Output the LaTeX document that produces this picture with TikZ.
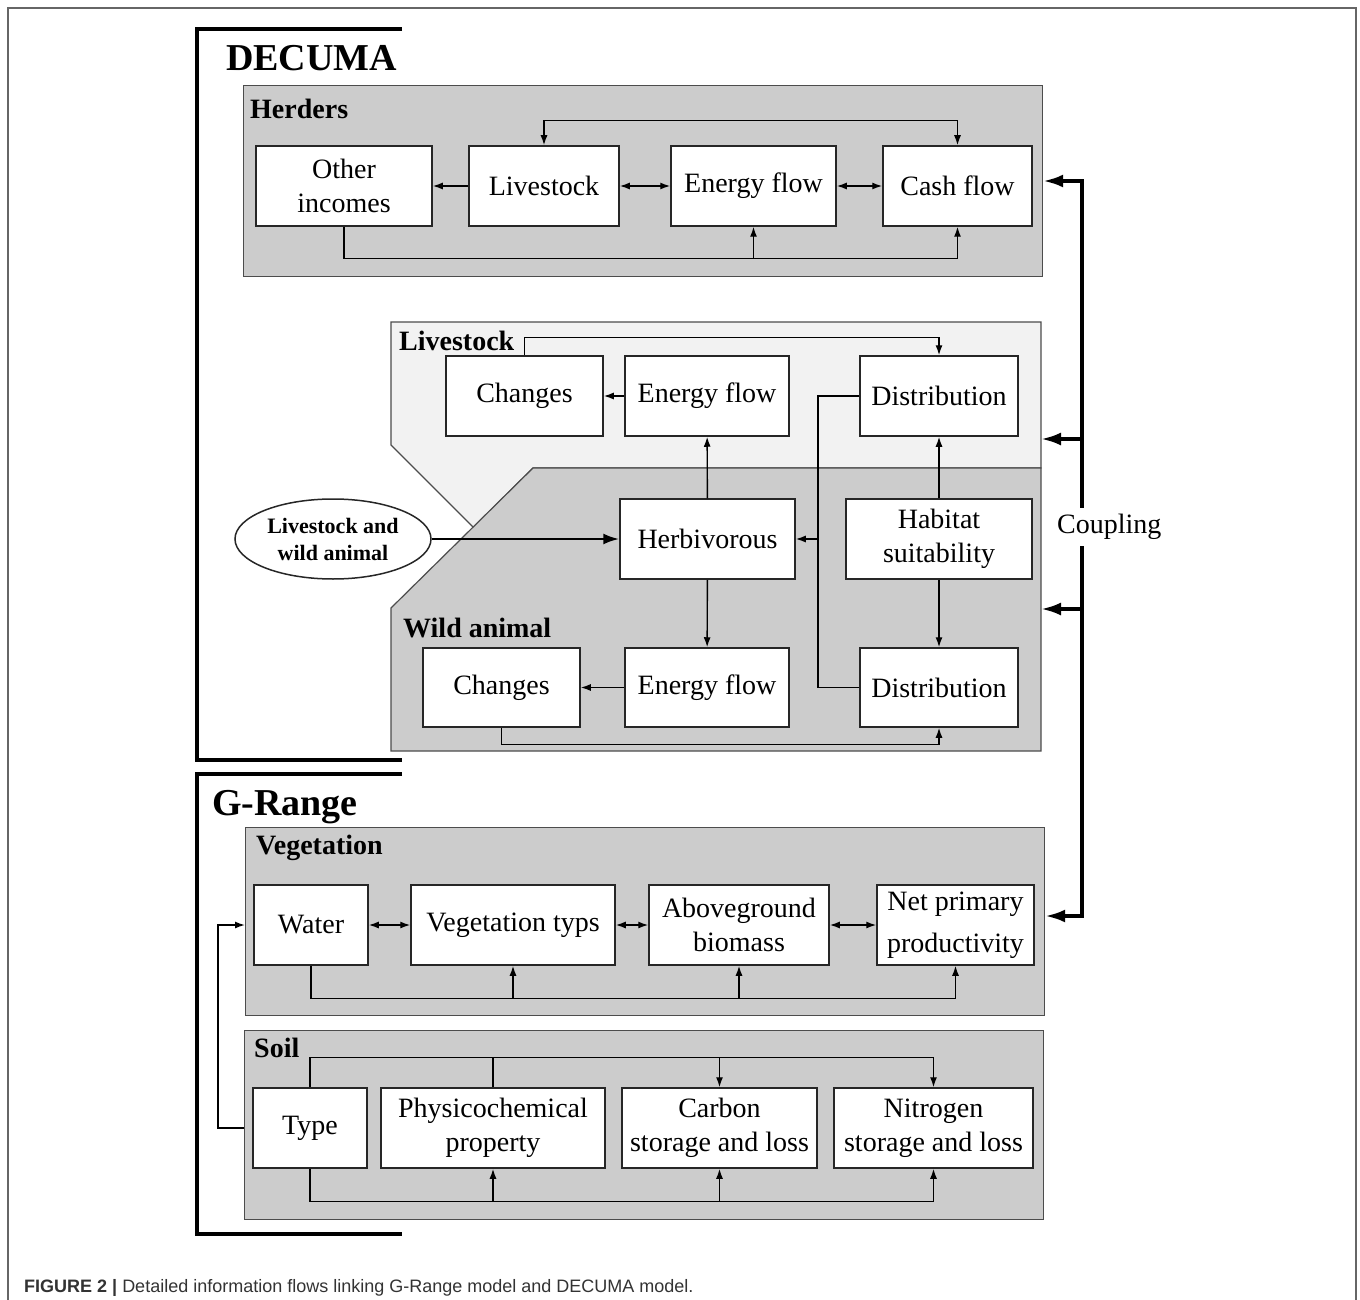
\documentclass[tikz,border=0pt]{standalone}
\usepackage{fontspec}
\setmainfont{Liberation Serif}
\newfontfamily\capfont{Liberation Sans}
\usetikzlibrary{arrows.meta,shapes.geometric}

\tikzset{
	panel/.style={draw=black!70, line width=1.2pt, fill=black!20, inner sep=0pt, anchor=north west},
	zone/.style={draw=black!70, line width=1.2pt},
	box/.style={draw=black!85, fill=white, line width=1.5pt, inner sep=0pt, minimum height=80pt, align=center, font=\fontsize{28}{34}\selectfont},
	paneltitle/.style={anchor=base west, inner sep=0pt, font=\bfseries\fontsize{28}{34}\selectfont},
	modeltitle/.style={anchor=base west, inner sep=0pt, font=\bfseries\fontsize{38}{44}\selectfont},
	link/.style={line width=1.4pt},
	flow/.style={link, -{Latex[length=10pt,width=7pt]}},
	twoway/.style={link, {Latex[length=10pt,width=7pt]}-{Latex[length=10pt,width=7pt]}},
	feed/.style={line width=2.5pt, -{Latex[length=16pt,width=11pt]}},
	bracket/.style={line width=4pt},
	couple/.style={line width=3.5pt, -{Latex[length=20pt,width=13pt]}},
}

\begin{document}
\begin{tikzpicture}[x=1pt, y=-1pt]
	\useasboundingbox (0,0) rectangle (1360,1300);
	% cornice
	\draw[black!60, line width=2pt] (8,1300) -- (8,8) -- (1356,8) -- (1356,1300);

	% DECUMA
	\draw[bracket] (402,29) -- (197,29) -- (197,760) -- (402,760);
	\node[modeltitle] (decuma) at (226,71) {DECUMA};

	% Herders
	\node[panel, minimum width=799pt, minimum height=191pt] (herders) at (243,85) {};
	\node[paneltitle] (herdersT) at (250,119) {Herders};
	\node[box, minimum width=176pt] (hOther) at (344,186) {Other\\incomes};
	\node[box, minimum width=150pt] (hLive) at (544,186) {Livestock};
	\node[box, minimum width=165pt] (hEnergy) at (753.5,186) {Energy flow};
	\node[box, minimum width=149pt] (hCash) at (957.5,186) {Cash flow};
	\draw[flow] (hLive) -- (hOther);
	\draw[twoway] (hLive) -- (hEnergy);
	\draw[twoway] (hEnergy) -- (hCash);
	\draw[twoway] (hLive.north) -- ++(0,-25) -| (hCash.north);
	\draw[flow] (hOther.south) -- ++(0,32) -| (hCash.south);
	\draw[flow] (hOther.south) ++(0,32) -| (hEnergy.south);

	% Livestock / Wild animal
	\draw[zone, fill=black!5] (391,322) -- (1041,322) -- (1041,468) -- (533,468) -- (473.5,527.5) -- (391,445) -- cycle;
	\draw[zone, fill=black!20] (533,468) -- (1041,468) -- (1041,751) -- (391,751) -- (391,608) -- cycle;
	\node[paneltitle] (liveT) at (399,350) {Livestock};
	\node[paneltitle] (wildT) at (403,637) {Wild animal};

	\node[box, minimum width=157pt] (lChange) at (524.5,396) {Changes};
	\node[box, minimum width=164pt] (lEnergy) at (707,396) {Energy flow};
	\node[box, minimum width=158pt] (lDist) at (939,396) {Distribution};

	\node[box, minimum width=175pt] (herb) at (707.5,539) {Herbivorous};
	\node[box, minimum width=186pt] (habitat) at (939,539) {Habitat\\suitability};
	\node[ellipse, draw=black!85, fill=white, line width=1.5pt, inner sep=0pt, minimum width=196pt, minimum height=80pt, align=center, font=\bfseries\fontsize{22}{27}\selectfont] (source) at (333,539) {Livestock and\\wild animal};

	\node[box, minimum width=157pt, minimum height=79pt] (wChange) at (501.5,687.5) {Changes};
	\node[box, minimum width=164pt, minimum height=79pt] (wEnergy) at (707,687.5) {Energy flow};
	\node[box, minimum width=158pt, minimum height=79pt] (wDist) at (939,687.5) {Distribution};

	\draw[flow] (lEnergy) -- (lChange);
	\draw[flow] (lChange.north) -- ++(0,-18) -| (lDist.north);
	\draw[flow] (herb) -- (lEnergy);
	\draw[flow] (herb) -- (wEnergy);
	\draw[flow] (habitat) -- (lDist);
	\draw[flow] (habitat) -- (wDist);
	\draw[flow] (wEnergy) -- (wChange);
	\draw[flow] (wChange.south) -- ++(0,17) -| (wDist.south);
	\coordinate (bus) at (818,539);
	\draw[link] (lDist.west) -| (bus) |- (wDist.west);
	\draw[flow] (bus) -- (herb.east);
	\draw[feed] (source) -- (herb);

	% G-Range
	\draw[bracket] (402,774) -- (197,774) -- (197,1234) -- (402,1234);
	\node[modeltitle] (grange) at (212,815) {G-Range};

	% Vegetation
	\node[panel, minimum width=799pt, minimum height=188pt] (veg) at (245,827) {};
	\node[paneltitle] (vegT) at (256,854) {Vegetation};
	\node[box, minimum width=114pt] (water) at (311,925) {Water};
	\node[box, minimum width=204pt] (vType) at (513,925) {Vegetation typs};
	\node[box, minimum width=180pt] (agb) at (739,925) {Aboveground\\biomass};
	\node[box, minimum width=157pt, font=\fontsize{28}{42}\selectfont] (npp) at (955.5,925) {Net primary\\productivity};
	\draw[twoway] (water) -- (vType);
	\draw[twoway] (vType) -- (agb);
	\draw[twoway] (agb) -- (npp);
	\draw[flow] (water.south) -- ++(0,33) -| (npp.south);
	\draw[flow] (water.south) ++(0,33) -| (vType.south);
	\draw[flow] (water.south) ++(0,33) -| (agb.south);

	% Soil
	\node[panel, minimum width=799pt, minimum height=189pt] (soil) at (244,1030) {};
	\node[paneltitle] (soilT) at (254,1057) {Soil};
	\node[box, minimum width=114pt] (sType) at (310,1128) {Type};
	\node[box, minimum width=224pt] (phys) at (493,1128) {Physicochemical\\property};
	\node[box, minimum width=195pt] (carbon) at (719.5,1128) {Carbon\\storage and loss};
	\node[box, minimum width=199pt] (nitro) at (933.5,1128) {Nitrogen\\storage and loss};
	\draw[flow] (sType.north) -- ++(0,-30) -| (nitro.north);
	\draw[flow] (sType.north) ++(0,-30) -| (carbon.north);
	\draw[link] (sType.north) ++(0,-30) -| (phys.north);
	\draw[flow] (sType.south) -- ++(0,33) -| (nitro.south);
	\draw[flow] (sType.south) ++(0,33) -| (phys.south);
	\draw[flow] (sType.south) ++(0,33) -| (carbon.south);
	\draw[flow] (soil.west |- sType.west) -- ++(-26,0) |- (veg.west |- water.west);

	% Coupling
	\coordinate (cplTop) at (1082,181);
	\coordinate (cplBot) at (1082,916);
	\coordinate (cplLive) at (1082,439);
	\coordinate (cplWild) at (1082,609);
	\coordinate (liveEdge) at (1041,439);
	\coordinate (wildEdge) at (1041,609);
	\draw[couple] (cplBot) -- (cplTop) -- (cplTop -| herders.east);
	\draw[couple] (cplTop) -- (cplBot) -- (cplBot -| veg.east);
	\draw[couple] (cplLive) -- (liveEdge);
	\draw[couple] (cplWild) -- (wildEdge);
	\node[fill=white, inner xsep=2pt, inner ysep=6pt, anchor=west, font=\fontsize{28}{34}\selectfont] (coupling) at (1055,527) {Coupling};

	% didascalia
	\node[anchor=base west, inner sep=0pt, text=black!80, font=\capfont\fontsize{18}{21}\selectfont] (caption) at (24,1292) {\textbf{FIGURE 2 |} Detailed information flows linking G-Range model and DECUMA model.};
\end{tikzpicture}
\end{document}
